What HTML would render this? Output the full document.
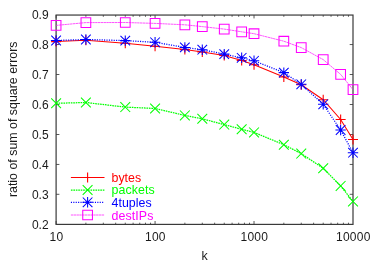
<!DOCTYPE html>
<html><head><meta charset="utf-8"><title>chart</title>
<style>html,body{margin:0;padding:0;background:#fff;overflow:hidden}body{width:374px;height:262px;position:relative}</style></head>
<body>
<svg width="374" height="262" viewBox="0 0 374 262" style="position:absolute;left:0;top:0;font-family:'Liberation Sans',sans-serif;font-size:12.4px;will-change:transform">

<g fill="none" stroke="#3a3a3a" stroke-width="1.2">
<rect x="56.1" y="15.05" width="296.9" height="209.35"/>
<path d="M56.1 44.55h3.3M353.0 44.55h-3.3M56.1 74.50h3.3M353.0 74.50h-3.3M56.1 104.50h3.3M353.0 104.50h-3.3M56.1 134.50h3.3M353.0 134.50h-3.3M56.1 164.45h3.3M353.0 164.45h-3.3M56.1 194.30h3.3M353.0 194.30h-3.3M56.10 224.4v-3.4M56.10 15.05v3.4M85.89 224.4v-1.7M85.89 15.05v1.7M103.32 224.4v-1.7M103.32 15.05v1.7M115.68 224.4v-1.7M115.68 15.05v1.7M125.27 224.4v-1.7M125.27 15.05v1.7M133.11 224.4v-1.7M133.11 15.05v1.7M139.74 224.4v-1.7M139.74 15.05v1.7M145.48 224.4v-1.7M145.48 15.05v1.7M150.54 224.4v-1.7M150.54 15.05v1.7M155.07 224.4v-3.4M155.07 15.05v3.4M184.86 224.4v-1.7M184.86 15.05v1.7M202.29 224.4v-1.7M202.29 15.05v1.7M214.65 224.4v-1.7M214.65 15.05v1.7M224.24 224.4v-1.7M224.24 15.05v1.7M232.08 224.4v-1.7M232.08 15.05v1.7M238.70 224.4v-1.7M238.70 15.05v1.7M244.44 224.4v-1.7M244.44 15.05v1.7M249.50 224.4v-1.7M249.50 15.05v1.7M254.03 224.4v-3.4M254.03 15.05v3.4M283.83 224.4v-1.7M283.83 15.05v1.7M301.25 224.4v-1.7M301.25 15.05v1.7M313.62 224.4v-1.7M313.62 15.05v1.7M323.21 224.4v-1.7M323.21 15.05v1.7M331.04 224.4v-1.7M331.04 15.05v1.7M337.67 224.4v-1.7M337.67 15.05v1.7M343.41 224.4v-1.7M343.41 15.05v1.7M348.47 224.4v-1.7M348.47 15.05v1.7" stroke-width="0.85"/>
</g>
<g fill="#1a1a1a">
<text x="48.6" y="19.0" text-anchor="end" font-size="12">0.9</text>
<text x="48.6" y="49.0" text-anchor="end" font-size="12">0.8</text>
<text x="48.6" y="79.0" text-anchor="end" font-size="12">0.7</text>
<text x="48.6" y="108.9" text-anchor="end" font-size="12">0.6</text>
<text x="48.6" y="139.0" text-anchor="end" font-size="12">0.5</text>
<text x="48.6" y="169.0" text-anchor="end" font-size="12">0.4</text>
<text x="48.6" y="198.9" text-anchor="end" font-size="12">0.3</text>
<text x="48.6" y="229.0" text-anchor="end" font-size="12">0.2</text>
<text x="56.40" y="241.2" text-anchor="middle" font-size="12" letter-spacing="0.25">10</text>
<text x="155.37" y="241.2" text-anchor="middle" font-size="12" letter-spacing="0.25">100</text>
<text x="254.33" y="241.2" text-anchor="middle" font-size="12" letter-spacing="0.25">1000</text>
<text x="353.30" y="241.2" text-anchor="middle" font-size="12" letter-spacing="0.25">10000</text>
<text x="204.6" y="260" text-anchor="middle">k</text>
<text transform="translate(17 119.3) rotate(-90)" text-anchor="middle">ratio of sum of square errors</text>
</g>
<g fill="none" stroke="#ff0000" stroke-width="1.2">
<polyline points="56.10,41.60 85.89,40.20 125.27,43.20 155.07,46.20 184.86,49.60 202.29,52.00 224.24,55.50 241.67,60.50 254.03,64.70 283.83,77.00 301.25,84.80 323.21,99.70 340.64,119.50 353.00,139.50" stroke-width="1.05" stroke-opacity="1"/>
<path d="M70.9 177.5H104.5" stroke-width="1.05" stroke-opacity="1"/>
<path d="M51.10 41.60h10.0M56.10 36.60v10.0M80.89 40.20h10.0M85.89 35.20v10.0M120.27 43.20h10.0M125.27 38.20v10.0M150.07 46.20h10.0M155.07 41.20v10.0M179.86 49.60h10.0M184.86 44.60v10.0M197.29 52.00h10.0M202.29 47.00v10.0M219.24 55.50h10.0M224.24 50.50v10.0M236.67 60.50h10.0M241.67 55.50v10.0M249.03 64.70h10.0M254.03 59.70v10.0M278.83 77.00h10.0M283.83 72.00v10.0M296.25 84.80h10.0M301.25 79.80v10.0M318.21 99.70h10.0M323.21 94.70v10.0M335.64 119.50h10.0M340.64 114.50v10.0M348.00 139.50h10.0M353.00 134.50v10.0M82.60 177.50h10.0M87.60 172.50v10.0" stroke-width="1.1"/>
</g>
<text x="111.5" y="181.9" fill="#ff0000" letter-spacing="0">bytes</text>
<g fill="none" stroke="#00ff00" stroke-width="1.2">
<polyline points="56.10,103.30 85.89,102.50 125.27,107.10 155.07,108.50 184.86,115.40 202.29,118.80 224.24,124.60 241.67,129.30 254.03,132.40 283.83,144.70 301.25,153.60 323.21,168.30 340.64,185.90 353.00,201.40" stroke-width="1.25" stroke-opacity="1" stroke-dasharray="1.65 0.8"/>
<path d="M70.9 190.0H104.5" stroke-width="1.25" stroke-opacity="1" stroke-dasharray="1.65 0.8"/>
<path d="M51.20 98.40l9.8 9.8M51.20 108.20l9.8 -9.8M80.99 97.60l9.8 9.8M80.99 107.40l9.8 -9.8M120.37 102.20l9.8 9.8M120.37 112.00l9.8 -9.8M150.17 103.60l9.8 9.8M150.17 113.40l9.8 -9.8M179.96 110.50l9.8 9.8M179.96 120.30l9.8 -9.8M197.39 113.90l9.8 9.8M197.39 123.70l9.8 -9.8M219.34 119.70l9.8 9.8M219.34 129.50l9.8 -9.8M236.77 124.40l9.8 9.8M236.77 134.20l9.8 -9.8M249.13 127.50l9.8 9.8M249.13 137.30l9.8 -9.8M278.93 139.80l9.8 9.8M278.93 149.60l9.8 -9.8M296.35 148.70l9.8 9.8M296.35 158.50l9.8 -9.8M318.31 163.40l9.8 9.8M318.31 173.20l9.8 -9.8M335.74 181.00l9.8 9.8M335.74 190.80l9.8 -9.8M348.10 196.50l9.8 9.8M348.10 206.30l9.8 -9.8M82.70 185.10l9.8 9.8M82.70 194.90l9.8 -9.8" stroke-width="1.05"/>
</g>
<text x="111.5" y="194.4" fill="#00ff00" letter-spacing="0.1">packets</text>
<g fill="none" stroke="#0000ff" stroke-width="1.2">
<polyline points="56.10,40.50 85.89,39.50 125.27,40.60 155.07,42.30 184.86,47.40 202.29,49.70 224.24,54.10 241.67,57.80 254.03,60.80 283.83,72.60 301.25,84.30 323.21,104.30 340.64,130.00 353.00,152.70" stroke-width="1.3" stroke-opacity="1" stroke-dasharray="1.1 1.3"/>
<path d="M70.9 202.3H104.5" stroke-width="1.3" stroke-opacity="1" stroke-dasharray="1.1 1.3"/>
<path d="M50.90 40.50h10.4M56.10 35.30v10.4M51.30 35.70l9.6 9.6M51.30 45.30l9.6 -9.6M80.69 39.50h10.4M85.89 34.30v10.4M81.09 34.70l9.6 9.6M81.09 44.30l9.6 -9.6M120.07 40.60h10.4M125.27 35.40v10.4M120.47 35.80l9.6 9.6M120.47 45.40l9.6 -9.6M149.87 42.30h10.4M155.07 37.10v10.4M150.27 37.50l9.6 9.6M150.27 47.10l9.6 -9.6M179.66 47.40h10.4M184.86 42.20v10.4M180.06 42.60l9.6 9.6M180.06 52.20l9.6 -9.6M197.09 49.70h10.4M202.29 44.50v10.4M197.49 44.90l9.6 9.6M197.49 54.50l9.6 -9.6M219.04 54.10h10.4M224.24 48.90v10.4M219.44 49.30l9.6 9.6M219.44 58.90l9.6 -9.6M236.47 57.80h10.4M241.67 52.60v10.4M236.87 53.00l9.6 9.6M236.87 62.60l9.6 -9.6M248.83 60.80h10.4M254.03 55.60v10.4M249.23 56.00l9.6 9.6M249.23 65.60l9.6 -9.6M278.63 72.60h10.4M283.83 67.40v10.4M279.03 67.80l9.6 9.6M279.03 77.40l9.6 -9.6M296.05 84.30h10.4M301.25 79.10v10.4M296.45 79.50l9.6 9.6M296.45 89.10l9.6 -9.6M318.01 104.30h10.4M323.21 99.10v10.4M318.41 99.50l9.6 9.6M318.41 109.10l9.6 -9.6M335.44 130.00h10.4M340.64 124.80v10.4M335.84 125.20l9.6 9.6M335.84 134.80l9.6 -9.6M347.80 152.70h10.4M353.00 147.50v10.4M348.20 147.90l9.6 9.6M348.20 157.50l9.6 -9.6M82.40 202.30h10.4M87.60 197.10v10.4M82.80 197.50l9.6 9.6M82.80 207.10l9.6 -9.6" stroke-width="1.05"/>
</g>
<text x="111.5" y="207.0" fill="#0000ff" letter-spacing="0.05">4tuples</text>
<g fill="none" stroke="#ff00ff" stroke-width="1.2">
<polyline points="56.10,25.40 85.89,22.60 125.27,22.50 155.07,23.40 184.86,24.80 202.29,26.60 224.24,29.10 241.67,31.80 254.03,33.70 283.83,41.20 301.25,47.60 323.21,59.60 340.64,74.40 353.00,89.60" stroke-width="0.9" stroke-opacity="0.75" stroke-dasharray="2.4 0.4"/>
<path d="M70.9 215.0H104.5" stroke-width="0.9" stroke-opacity="0.75" stroke-dasharray="2.4 0.4"/>
<path d="M51.25 20.55h9.7v9.7h-9.7zM81.04 17.75h9.7v9.7h-9.7zM120.42 17.65h9.7v9.7h-9.7zM150.22 18.55h9.7v9.7h-9.7zM180.01 19.95h9.7v9.7h-9.7zM197.44 21.75h9.7v9.7h-9.7zM219.39 24.25h9.7v9.7h-9.7zM236.82 26.95h9.7v9.7h-9.7zM249.18 28.85h9.7v9.7h-9.7zM278.98 36.35h9.7v9.7h-9.7zM296.40 42.75h9.7v9.7h-9.7zM318.36 54.75h9.7v9.7h-9.7zM335.79 69.55h9.7v9.7h-9.7zM348.15 84.75h9.7v9.7h-9.7zM82.75 210.15h9.7v9.7h-9.7z" stroke-width="1.05"/>
</g>
<text x="111.5" y="220.1" fill="#ff00ff" letter-spacing="0.1">destIPs</text>
</svg>
</body></html>
